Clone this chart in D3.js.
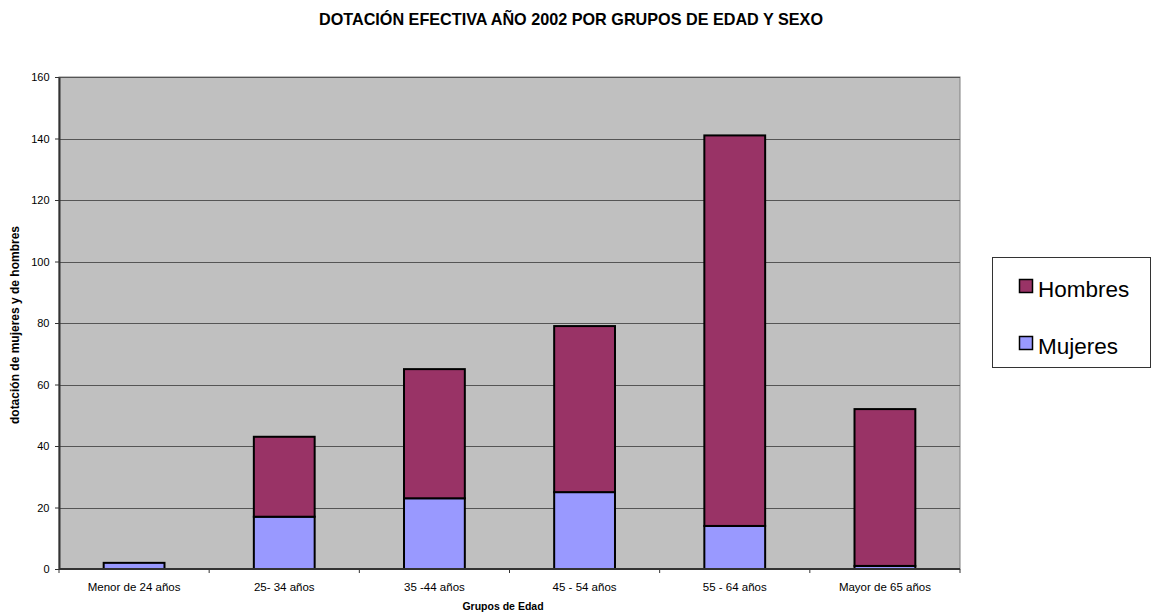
<!DOCTYPE html>
<html><head><meta charset="utf-8">
<script src="https://cdn.jsdelivr.net/npm/d3@7"></script>
<style>body{margin:0;background:#fff;} svg{display:block;font-family:"Liberation Sans",Arial,sans-serif;}</style>
</head><body>
<svg id="c" width="1153" height="614"></svg>
<script>
const categories = ["Menor de 24 años","25- 34 años","35 -44 años","45 - 54 años","55 - 64 años","Mayor de 65 años"];
const mujeres = [2, 17, 23, 25, 14, 1];
const hombres = [0, 26, 42, 54, 127, 51];
const yTicks = [0,20,40,60,80,100,120,140,160];
const seriesNames = ["Mujeres","Hombres"];
const colors = {Mujeres:"#9999ff", Hombres:"#993366"};

const svg = d3.select("#c");
const m = {l:59, r:960, t:77, b:569};
const x = d3.scaleBand().domain(categories).range([m.l, m.r]).paddingInner(0.595).paddingOuter(0.2975);
const y = d3.scaleLinear().domain([0,160]).range([m.b, m.t]);

svg.append("rect").attr("x",m.l).attr("y",m.t).attr("width",m.r-m.l).attr("height",m.b-m.t)
  .attr("fill","#c0c0c0").attr("stroke","#808080").attr("stroke-width",1);

svg.append("g").selectAll("line").data(yTicks.filter(d=>d>0)).join("line")
  .attr("x1",m.l).attr("x2",m.r).attr("y1",d=>Math.round(y(d))+0.5).attr("y2",d=>Math.round(y(d))+0.5)
  .attr("stroke","#555").attr("stroke-width",1);

const table = categories.map((c,i)=>({cat:c, Mujeres:mujeres[i], Hombres:hombres[i]}));
const stacked = d3.stack().keys(seriesNames)(table);
svg.append("g").selectAll("g").data(stacked).join("g").attr("fill",d=>colors[d.key])
  .selectAll("rect").data(d=>d.filter(p=>p[1]-p[0]>0)).join("rect")
  .attr("x",d=>x(d.data.cat)).attr("width",x.bandwidth())
  .attr("y",d=>y(d[1])).attr("height",d=>y(d[0])-y(d[1]))
  .attr("stroke","#000").attr("stroke-width",2);

// y axis
const ya = svg.append("g").attr("transform",`translate(${m.l},0)`)
  .call(d3.axisLeft(y).tickValues(yTicks).tickSize(4).tickPadding(5.5).tickSizeOuter(0));
ya.select(".domain").attr("stroke","#333").attr("stroke-width",2);
ya.selectAll(".tick line").attr("stroke","#333");
ya.selectAll("text").attr("font-size","11px").attr("fill","#000").attr("font-family","Liberation Sans, Arial, sans-serif");

// x axis
const xa = svg.append("g").attr("transform",`translate(0,${m.b})`)
  .call(d3.axisBottom(x).tickSize(0).tickPadding(14));
xa.select(".domain").attr("stroke","#333").attr("stroke-width",2).attr("d",`M${m.l},0H${m.r}`);
xa.selectAll("text").attr("font-size","11.5px").attr("fill","#000").attr("font-family","Liberation Sans, Arial, sans-serif");
const bounds = d3.range(categories.length+1).map(i=>m.l + i*(m.r-m.l)/categories.length);
svg.append("g").selectAll("line").data(bounds).join("line")
  .attr("x1",d=>d).attr("x2",d=>d).attr("y1",m.b).attr("y2",m.b+4).attr("stroke","#333");

// titles
svg.append("text").attr("x",571).attr("y",25).attr("text-anchor","middle")
  .attr("font-size","16.2px").attr("font-weight","bold").text("DOTACIÓN EFECTIVA AÑO 2002 POR GRUPOS DE EDAD Y SEXO");
svg.append("text").attr("x",503).attr("y",609.5).attr("text-anchor","middle")
  .attr("font-size","10.5px").attr("font-weight","bold").text("Grupos de Edad");
svg.append("text").attr("transform","translate(19,325) rotate(-90)").attr("text-anchor","middle")
  .attr("font-size","12px").attr("font-weight","bold").text("dotación de mujeres y de hombres");

// legend
const lg = svg.append("g");
lg.append("rect").attr("x",992.5).attr("y",257.5).attr("width",158).attr("height",110)
  .attr("fill","#fff").attr("stroke","#333").attr("stroke-width",1);
const legendItems = ["Hombres","Mujeres"];
legendItems.forEach((k,i)=>{
  const yy = 279.5 + i*57;
  lg.append("rect").attr("x",1019.5).attr("y",yy).attr("width",13).attr("height",13)
    .attr("fill",colors[k]).attr("stroke","#000").attr("stroke-width",1.5);
  lg.append("text").attr("x",1038).attr("y",yy+17.5).attr("font-size","22.5px").text(k);
});
</script>
</body></html>
